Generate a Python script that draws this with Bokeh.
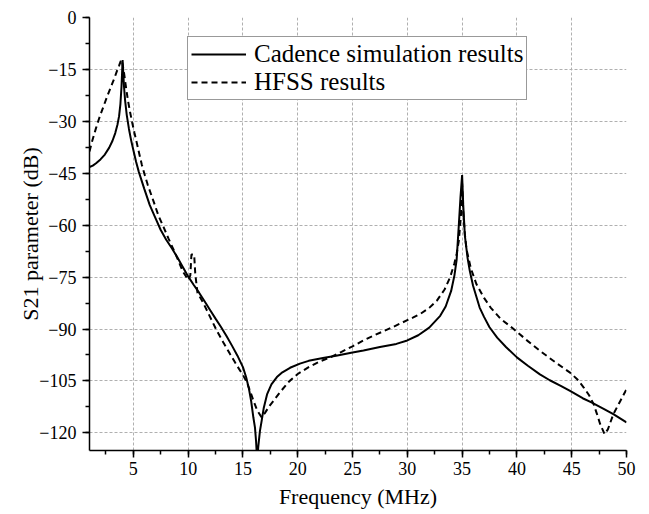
from bokeh.plotting import figure
from bokeh.models import SingleIntervalTicker, FixedTicker, Range1d
from bokeh.embed import file_html
from bokeh.resources import INLINE

# ---- data ----
cadence_freq = [1.0, 1.3, 1.6, 2.0, 2.4, 2.8, 3.1, 3.35, 3.55, 3.7, 3.82, 3.92, 3.98, 4.02,
                4.08, 4.15, 4.25, 4.4, 4.6, 4.8, 5.0, 5.25, 5.5, 6.0, 6.5, 7.0, 7.5, 8.0,
                8.5, 9.0, 9.5, 10.0, 10.5, 11.0, 11.5, 12.0, 12.5, 13.0, 13.5, 14.0, 14.5,
                15.0, 15.3, 15.55, 15.75, 15.95, 16.1, 16.2, 16.3, 16.4, 16.55, 16.72, 16.9,
                17.2, 17.6, 18.1, 18.6, 19.3, 20.2, 21.0, 22.3, 23.5, 25.0, 26.0, 27.5,
                29.0, 30.0, 31.0, 32.0, 33.0, 33.5, 34.0, 34.3, 34.5, 34.7, 34.85, 35.0,
                35.1, 35.25, 35.5, 35.7, 36.0, 36.6, 37.0, 37.5, 38.2, 39.0, 40.0, 41.0,
                42.1, 43.0, 44.0, 44.85, 46.0, 46.8, 48.0, 48.8, 50.0]
cadence_s21 = [-43.2, -42.8, -42.1, -41.0, -39.6, -37.6, -35.6, -33.4, -31.0, -28.5, -25.0,
               -20.0, -15.5, -12.3, -16.0, -20.0, -24.0, -28.2, -32.2, -35.5, -38.3, -41.7,
               -44.6, -49.5, -54.2, -57.8, -61.4, -64.2, -66.6, -69.2, -72.0, -74.8, -77.2,
               -79.5, -82.0, -84.5, -87.0, -89.4, -92.0, -94.8, -97.7, -101.0, -104.0,
               -107.3, -110.8, -115.5, -118.5, -122.5, -128.0, -124.0, -119.5, -116.3,
               -112.8, -108.9, -106.0, -103.9, -102.5, -101.2, -100.0, -99.2, -98.4, -97.7,
               -96.8, -96.2, -95.2, -94.3, -93.3, -91.8, -89.6, -86.2, -83.5, -79.0, -74.5,
               -70.0, -60.0, -52.0, -45.5, -54.0, -63.0, -69.5, -73.2, -77.5, -83.8, -86.5,
               -89.5, -92.5, -95.2, -98.2, -100.6, -103.1, -104.8, -106.4, -107.9, -110.0,
               -111.2, -113.2, -114.6, -117.0]

hfss_freq = [1.0, 1.2, 1.4, 1.6, 1.8, 2.05, 2.3, 2.6, 2.9, 3.1, 3.3, 3.5, 3.7, 3.85, 3.92,
             4.02, 4.15, 4.3, 4.5, 4.7, 4.9, 5.1, 5.3, 5.55, 5.78, 6.05, 6.3, 6.83, 7.3,
             7.75, 8.2, 8.66, 9.1, 9.5, 10.0, 10.2, 10.3, 10.55, 10.65, 10.85, 11.4, 12.0,
             12.6, 13.2, 13.8, 14.5, 15.0, 15.36, 15.66, 15.96, 16.3, 16.7, 17.0, 17.4,
             17.8, 18.4, 19.2, 20.0, 21.0, 22.0, 23.1, 24.0, 25.0, 26.0, 27.0, 28.0, 28.7,
             29.5, 30.5, 31.2, 32.0, 32.7, 33.4, 33.9, 34.3, 34.5, 34.7, 34.9, 35.0, 35.1,
             35.25, 35.4, 35.8, 36.3, 37.0, 37.6, 38.5, 39.7, 41.0, 42.1, 43.5, 44.85,
             45.5, 46.1, 46.6, 47.0, 47.3, 47.6, 48.0, 48.3, 48.8, 49.4, 50.0]
hfss_s21 = [-38.7, -36.2, -34.0, -31.9, -29.9, -27.6, -25.5, -22.9, -20.5, -18.9, -17.3,
            -15.5, -13.9, -12.6, -12.2, -13.5, -16.0, -19.5, -23.8, -27.3, -30.4, -33.3,
            -36.0, -39.5, -42.6, -45.6, -48.2, -53.0, -57.3, -60.5, -63.8, -67.0, -70.2,
            -73.3, -75.8, -74.5, -68.5, -68.5, -74.0, -79.5, -82.6, -86.5, -90.4, -93.8,
            -97.1, -100.8, -103.3, -105.4, -108.0, -110.7, -113.5, -115.5, -114.3, -112.3,
            -110.7, -108.2, -105.2, -103.0, -101.0, -99.4, -98.0, -96.6, -95.0, -93.3,
            -91.8, -90.4, -89.4, -88.2, -86.7, -85.6, -83.9, -81.8, -78.6, -75.1, -71.0,
            -68.3, -64.5, -57.0, -48.0, -56.0, -62.5, -67.0, -72.5, -77.0, -81.0, -83.8,
            -87.0, -90.0, -93.5, -96.3, -99.6, -102.6, -104.5, -106.9, -109.2, -111.7,
            -114.5, -117.5, -120.4, -119.0, -114.6, -111.0, -107.4]

x_ticks = [5, 10, 15, 20, 25, 30, 35, 40, 45, 50]
y_ticks = [0, -15, -30, -45, -60, -75, -90, -105, -120]
series_names = ["Cadence simulation results", "HFSS results"]

FONT = "Liberation Serif"

p = figure(frame_width=537, frame_height=433, output_backend="svg", toolbar_location=None,
           x_range=Range1d(1, 50), y_range=Range1d(-125.1, 0),
           min_border_left=89, min_border_right=23, min_border_top=17, min_border_bottom=64)
p.outline_line_color = None
p.background_fill_color = "white"

p.line(cadence_freq, cadence_s21, line_color="black", line_width=2,
       legend_label=series_names[0])
p.line(hfss_freq, hfss_s21, line_color="black", line_width=2, line_dash="6 4",
       legend_label=series_names[1])

# axes
p.xaxis.ticker = SingleIntervalTicker(interval=5, num_minor_ticks=2)
p.yaxis.ticker = SingleIntervalTicker(interval=15, num_minor_ticks=2)
p.xgrid.ticker = FixedTicker(ticks=x_ticks[:-1])
p.ygrid.ticker = FixedTicker(ticks=y_ticks[1:])
for g in (p.xgrid, p.ygrid):
    g.grid_line_color = "#b0b0b0"
    g.grid_line_dash = "3 2"
    g.grid_line_width = 1

p.xaxis.axis_label = "Frequency (MHz)"
p.yaxis.axis_label = "S21 parameter (dB)"
for ax in (p.xaxis[0], p.yaxis[0]):
    ax.axis_line_color = "black"
    ax.axis_line_width = 1.5
    ax.major_tick_line_color = "black"
    ax.minor_tick_line_color = "black"
    ax.major_tick_line_width = 1.5
    ax.minor_tick_line_width = 1.5
    ax.major_tick_out = 7
    ax.major_tick_in = 0
    ax.minor_tick_out = 4
    ax.minor_tick_in = 0
    ax.major_label_text_font = FONT
    ax.major_label_text_font_size = "18px"
    ax.major_label_text_color = "black"
    ax.axis_label_text_font = FONT
    ax.axis_label_text_font_size = "22px"
    ax.axis_label_text_font_style = "normal"
    ax.axis_label_text_color = "black"
p.xaxis.major_label_standoff = 4
p.yaxis.major_label_standoff = 6
p.xaxis.axis_label_standoff = 6
p.yaxis.axis_label_standoff = -7

leg = p.legend[0]
leg.location = (98, 350)
leg.margin = 0
leg.padding = 3
leg.spacing = 0
leg.glyph_width = 55
leg.glyph_height = 20
leg.label_standoff = 8
leg.label_text_font = FONT
leg.label_text_font_size = "25px"
leg.label_text_color = "black"
leg.border_line_color = "#333333"
leg.border_line_width = 1
leg.background_fill_color = "white"
leg.background_fill_alpha = 1.0

open("out.html", "w").write(file_html(p, INLINE))
